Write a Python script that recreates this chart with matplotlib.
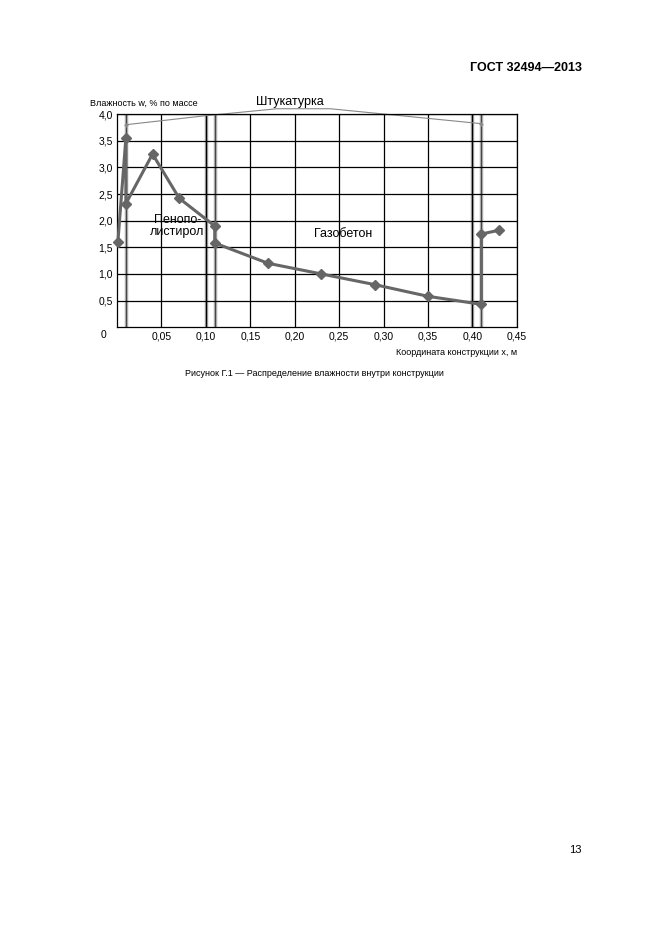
import matplotlib
matplotlib.use("Agg")
import matplotlib.pyplot as plt

x = [0.001, 0.01, 0.01, 0.04, 0.07, 0.11, 0.11, 0.17, 0.23, 0.29, 0.35, 0.41, 0.41, 0.43]
w = [1.6, 3.55, 2.32, 3.25, 2.42, 1.9, 1.58, 1.2, 1.0, 0.8, 0.58, 0.43, 1.75, 1.82]
px = [0.01, 0.1, 0.18, 0.24, 0.41]
pw = [3.8, 3.97, 4.1, 4.1, 3.82]
xticks = [0.05, 0.10, 0.15, 0.20, 0.25, 0.30, 0.35, 0.40, 0.45]
yticks = [0.5, 1.0, 1.5, 2.0, 2.5, 3.0, 3.5, 4.0]

plt.rcParams['font.family'] = ['Liberation Sans', 'DejaVu Sans']
fig = plt.figure(figsize=(6.61, 9.35), dpi=100)
ax = fig.add_axes([0.177, 0.650, 0.605, 0.228])
ax.set_xlim(0, 0.45); ax.set_ylim(0, 4.0)
ax.set_xticks(xticks); ax.set_yticks(yticks)
ax.set_xticklabels([f"{t:.2f}".replace('.', ',') for t in xticks], fontsize=7.5)
ax.set_yticklabels([f"{t:.1f}".replace('.', ',') for t in yticks], fontsize=7.5)
ax.text(-0.012, -0.05, "0", fontsize=7.5, ha='right', va='top', transform=ax.transData)
ax.grid(True, color='black', lw=0.9)
ax.tick_params(length=0, pad=3)
for s in ax.spines.values():
    s.set_linewidth(0.9)
for v in [0.01, 0.1, 0.11, 0.40, 0.41]:
    ax.axvline(v, color='#aaaaaa', lw=2.5, zorder=1)
    ax.axvline(v, color='#333333', lw=0.6, zorder=1.5)
ax.plot(px, pw, color='#888888', lw=0.8, marker='+', markevery=[0, 4], ms=3, clip_on=False)
ax.plot(x, w, color='#666666', lw=2.2, marker='D', ms=5, zorder=3, clip_on=False)
ax.text(0.068, 1.9, "Пенопо-\nлистирол", fontsize=9, ha='center', va='center', linespacing=1.1)
ax.text(0.255, 1.75, "Газобетон", fontsize=9, ha='center', va='center')
ax.text(0.195, 4.12, "Штукатурка", fontsize=9, ha='center', va='bottom')
ax.text(-0.03, 4.12, "Влажность w, % по массе", fontsize=6.5, ha='left', va='bottom')
ax.text(0.45, -0.38, "Координата конструкции x, м", fontsize=6.5, ha='right', va='top')
fig.text(0.88, 0.927, "ГОСТ 32494—2013", fontsize=9, fontweight='bold', ha='right', va='center')
fig.text(0.475, 0.601, "Рисунок Г.1 — Распределение влажности внутри конструкции", fontsize=6.5, ha='center', va='center')
fig.text(0.88, 0.091, "13", fontsize=8, ha='right', va='center')
fig.savefig("out.png", dpi=100)
